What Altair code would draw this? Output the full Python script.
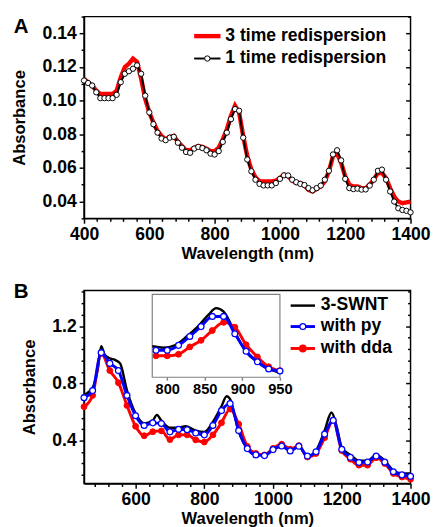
import altair as alt
import pandas as pd

FONT = "Liberation Sans"

# ---------------- Panel A data ----------------
wl_a = [400 + 12.5 * i for i in range(81)]
a_one_time = [0.112, 0.1105, 0.109, 0.105, 0.1015, 0.1015, 0.1015, 0.1015, 0.1035, 0.111,
              0.116, 0.1175, 0.119, 0.121, 0.116, 0.103, 0.093, 0.086, 0.081, 0.0775,
              0.0765, 0.078, 0.0785, 0.075, 0.072, 0.0695, 0.069, 0.0715, 0.0725, 0.0718,
              0.0705, 0.0685, 0.068, 0.070, 0.0755, 0.081, 0.089, 0.095, 0.094, 0.078,
              0.065, 0.058, 0.053, 0.0505, 0.0496, 0.0496, 0.0496, 0.051, 0.0535, 0.0556,
              0.0555, 0.053, 0.0515, 0.0505, 0.0498, 0.048, 0.0467, 0.048, 0.0495, 0.053,
              0.0583, 0.068, 0.0705, 0.0645, 0.0535, 0.048, 0.0474, 0.0477, 0.0471, 0.0472,
              0.0495, 0.053, 0.0583, 0.059, 0.053, 0.046, 0.040, 0.036, 0.035, 0.0345, 0.0336]
a_three_time = [0.113, 0.111, 0.109, 0.106, 0.104, 0.104, 0.104, 0.104, 0.106, 0.114,
                0.120, 0.122, 0.125, 0.123, 0.113, 0.101, 0.093, 0.087, 0.082, 0.079,
                0.077, 0.0785, 0.079, 0.0755, 0.073, 0.0705, 0.0705, 0.072, 0.073, 0.0725,
                0.0715, 0.070, 0.070, 0.072, 0.077, 0.083, 0.091, 0.097, 0.093, 0.079,
                0.067, 0.059, 0.0545, 0.052, 0.052, 0.052, 0.052, 0.0525, 0.054, 0.056,
                0.055, 0.0525, 0.051, 0.051, 0.0495, 0.047, 0.046, 0.0475, 0.049, 0.052,
                0.058, 0.067, 0.0685, 0.063, 0.055, 0.050, 0.049, 0.049, 0.048, 0.048,
                0.050, 0.053, 0.057, 0.057, 0.054, 0.048, 0.043, 0.040, 0.039, 0.0395, 0.040]

# ---------------- Panel B data ----------------
wl_b = list(range(450, 1401, 25))
b_py = [0.70, 0.75, 1.015, 0.94, 0.89, 0.716, 0.574, 0.506, 0.524, 0.52,
        0.461, 0.479, 0.476, 0.453, 0.44, 0.506, 0.61, 0.659, 0.47, 0.344,
        0.30, 0.295, 0.337, 0.362, 0.328, 0.36, 0.292, 0.322, 0.445, 0.542,
        0.339, 0.283, 0.247, 0.25, 0.292, 0.25, 0.182, 0.16, 0.15]
b_dda = [0.637, 0.716, 1.01, 0.89, 0.805, 0.646, 0.50, 0.434, 0.462, 0.468,
         0.407, 0.44, 0.44, 0.405, 0.39, 0.44, 0.525, 0.62, 0.515, 0.36,
         0.31, 0.30, 0.345, 0.375, 0.34, 0.365, 0.285, 0.31, 0.42, 0.54,
         0.33, 0.27, 0.228, 0.228, 0.28, 0.24, 0.17, 0.145, 0.13]
wl_b_swnt = [450, 475, 490, 500, 510, 525, 540, 555, 575, 600, 625, 650, 662, 675, 700,
             725, 745, 775, 800, 825, 850, 865, 875, 890, 905, 925, 950, 975, 1000, 1025,
             1050, 1075, 1100, 1125, 1150, 1170, 1185, 1200, 1225, 1250, 1275, 1300, 1325,
             1350, 1375, 1400]
b_swnt = [0.72, 0.77, 0.90, 1.06, 1.0, 0.975, 0.965, 0.94, 0.75, 0.59, 0.52, 0.54, 0.58,
          0.54, 0.49, 0.49, 0.50, 0.47, 0.46, 0.53, 0.64, 0.71, 0.69, 0.558, 0.432, 0.345,
          0.30, 0.30, 0.34, 0.36, 0.33, 0.36, 0.29, 0.33, 0.47, 0.596, 0.50, 0.35, 0.30,
          0.26, 0.26, 0.30, 0.26, 0.19, 0.17, 0.17]

# inset (zoom of 780-950 nm)
wl_in = [785, 800, 815, 830, 845, 860, 875, 890, 905, 920, 935, 950]
in_py = [0.4425, 0.4425, 0.474, 0.531, 0.594, 0.659, 0.659, 0.548, 0.436, 0.369, 0.323, 0.310]
in_dda = [0.407, 0.407, 0.417, 0.464, 0.506, 0.569, 0.621, 0.590, 0.478, 0.400, 0.337, 0.312]
wl_in_swnt = [780, 795, 810, 825, 840, 855, 865, 875, 890, 905, 920, 935, 950]
in_swnt = [0.468, 0.459, 0.474, 0.527, 0.59, 0.67, 0.712, 0.69, 0.558, 0.432, 0.369, 0.323, 0.30]

# ---------------- helpers ----------------
W = 335
HA = 207
HB = 198
FS = 18
one = pd.DataFrame({"k": [0]})


def axis_layer(df, xs, ys, xaxis, yaxis):
    return alt.Chart(df).mark_point(opacity=0).encode(
        x=alt.X("wl:Q", scale=xs, axis=xaxis),
        y=alt.Y("v:Q", scale=ys, axis=yaxis),
    )


def tick_axis(values, size, orient, offset=0):
    return alt.Axis(values=values, labels=False, tickSize=size, domain=False,
                    title=None, orient=orient, offset=offset, grid=False)


# ---------------- Panel A ----------------
dfa1 = pd.DataFrame({"wl": wl_a, "v": a_one_time})
dfa3 = pd.DataFrame({"wl": wl_a, "v": a_three_time})
xsa = alt.Scale(domain=[400, 1400], nice=False, zero=False)
ysa = alt.Scale(domain=[0.03, 0.15], nice=False, zero=False)
a_major_y = [0.04, 0.06, 0.08, 0.10, 0.12, 0.14]
a_minor_y = [0.03, 0.05, 0.07, 0.09, 0.11, 0.13, 0.15]
a_major_x = [400, 600, 800, 1000, 1200, 1400]
a_minor_x = [440, 480, 520, 560, 640, 680, 720, 760, 840, 880, 920, 960,
             1040, 1080, 1120, 1160, 1240, 1280, 1320, 1360]

a_axes = axis_layer(dfa1, xsa, ysa,
                    alt.Axis(title="Wavelength (nm)", values=a_major_x, format="d", labelFlush=False,
                             tickSize=5, labelPadding=3, titlePadding=2),
                    alt.Axis(title="Absorbance", values=a_major_y, format=".2f",
                             tickSize=5, labelPadding=3, titlePadding=14))
a_minor = axis_layer(dfa1, xsa, ysa, tick_axis(a_minor_x, 3, "bottom"),
                     tick_axis(a_minor_y, 3, "left"))
a_right = axis_layer(dfa1, xsa, ysa, None, tick_axis(a_major_y, 5, "left", -W))
a_right_minor = axis_layer(dfa1, xsa, ysa, None, tick_axis(a_minor_y, 3, "left", -W))

a_red = alt.Chart(dfa3).mark_line(color="#ff0000", strokeWidth=4.5).encode(
    x=alt.X("wl:Q", scale=xsa, axis=None), y=alt.Y("v:Q", scale=ysa, axis=None))
a_black = alt.Chart(dfa1).mark_line(color="black", strokeWidth=2).encode(
    x=alt.X("wl:Q", scale=xsa, axis=None), y=alt.Y("v:Q", scale=ysa, axis=None))
a_pts = alt.Chart(dfa1).mark_point(shape="circle", filled=True, fill="white", stroke="black",
                                   strokeWidth=1, size=30, opacity=1).encode(
    x=alt.X("wl:Q", scale=xsa, axis=None), y=alt.Y("v:Q", scale=ysa, axis=None))

txt = dict(font=FONT, fontSize=FS, fontWeight="bold", align="left", baseline="middle", color="black")
a_leg = [
    alt.Chart(one).mark_rule(color="#ff0000", strokeWidth=4.5).encode(
        x=alt.value(113), x2=alt.value(140), y=alt.value(20)),
    alt.Chart(one).mark_text(**txt).encode(
        x=alt.value(145), y=alt.value(20), text=alt.value("3 time redispersion")),
    alt.Chart(one).mark_rule(color="black", strokeWidth=2).encode(
        x=alt.value(113), x2=alt.value(140), y=alt.value(43)),
    alt.Chart(one).mark_point(shape="circle", filled=True, fill="white", stroke="black",
                              strokeWidth=1, size=30, opacity=1).encode(
        x=alt.value(126.5), y=alt.value(43)),
    alt.Chart(one).mark_text(**txt).encode(
        x=alt.value(145), y=alt.value(43), text=alt.value("1 time redispersion")),
    alt.Chart(one).mark_text(font=FONT, fontSize=21, fontWeight="bold", align="left",
                             baseline="middle", color="black").encode(
        x=alt.value(-72), y=alt.value(11), text=alt.value("A")),
]

panel_a = alt.layer(a_axes, a_minor, a_right, a_right_minor, a_red, a_black, a_pts, *a_leg).resolve_axis(
    x="independent", y="independent").properties(width=W, height=HA)

# ---------------- Panel B ----------------
dfpy = pd.DataFrame({"wl": wl_b, "v": b_py})
dfdda = pd.DataFrame({"wl": wl_b, "v": b_dda})
dfsw = pd.DataFrame({"wl": wl_b_swnt, "v": b_swnt})
xsb = alt.Scale(domain=[450, 1400], nice=False, zero=False)
ysb = alt.Scale(domain=[0.1, 1.45], nice=False, zero=False)
b_major_y = [0.4, 0.8, 1.2]
b_minor_y = [0.16, 0.24, 0.32, 0.48, 0.56, 0.64, 0.72, 0.88, 0.96, 1.04, 1.12, 1.28, 1.36, 1.44]
b_major_x = [600, 800, 1000, 1200, 1400]
b_minor_x = [480, 520, 560, 640, 680, 720, 760, 840, 880, 920, 960,
             1040, 1080, 1120, 1160, 1240, 1280, 1320, 1360]

b_axes = axis_layer(dfpy, xsb, ysb,
                    alt.Axis(title="Wavelength (nm)", values=b_major_x, format="d", labelFlush=False,
                             tickSize=5, labelPadding=3, titlePadding=2),
                    alt.Axis(title="Absorbance", values=b_major_y, format=".1f",
                             tickSize=5, labelPadding=3, titlePadding=14))
b_minor = axis_layer(dfpy, xsb, ysb, tick_axis(b_minor_x, 3, "bottom"),
                     tick_axis(b_minor_y, 3, "left"))
b_right = axis_layer(dfpy, xsb, ysb, None, tick_axis(b_major_y, 5, "left", -W))
b_right_minor = axis_layer(dfpy, xsb, ysb, None, tick_axis(b_minor_y, 3, "left", -W))

BLUE = "#0000ff"
RED = "#ff0000"


def series(df, xs, ys, color, width, pts=None):
    layers = [alt.Chart(df).mark_line(color=color, strokeWidth=width, interpolate="monotone").encode(
        x=alt.X("wl:Q", scale=xs, axis=None), y=alt.Y("v:Q", scale=ys, axis=None))]
    if pts == "open":
        layers.append(alt.Chart(df).mark_point(shape="circle", filled=True, fill="white", stroke=color,
                                               strokeWidth=1.3, size=36, opacity=1).encode(
            x=alt.X("wl:Q", scale=xs, axis=None), y=alt.Y("v:Q", scale=ys, axis=None)))
    elif pts == "filled":
        layers.append(alt.Chart(df).mark_point(shape="circle", filled=True, fill=color, stroke=color,
                                               strokeWidth=1, size=36, opacity=1).encode(
            x=alt.X("wl:Q", scale=xs, axis=None), y=alt.Y("v:Q", scale=ys, axis=None)))
    return layers


b_leg = []
for yy, col, lab, kind in [(15.5, "black", "3-SWNT", None), (37, BLUE, "with py", "open"),
                           (59.5, RED, "with dda", "filled")]:
    b_leg.append(alt.Chart(one).mark_rule(color=col, strokeWidth=2.5 if kind is None else 3).encode(
        x=alt.value(212), x2=alt.value(237), y=alt.value(yy)))
    if kind == "open":
        b_leg.append(alt.Chart(one).mark_point(shape="circle", filled=True, fill="white", stroke=col,
                                               strokeWidth=1.3, size=36, opacity=1).encode(
            x=alt.value(224.5), y=alt.value(yy)))
    elif kind == "filled":
        b_leg.append(alt.Chart(one).mark_point(shape="circle", filled=True, fill=col, stroke=col,
                                               size=36, opacity=1).encode(
            x=alt.value(224.5), y=alt.value(yy)))
    b_leg.append(alt.Chart(one).mark_text(**txt).encode(
        x=alt.value(243), y=alt.value(yy), text=alt.value(lab)))
b_leg.append(alt.Chart(one).mark_text(font=FONT, fontSize=21, fontWeight="bold", align="left",
                                      baseline="middle", color="black").encode(
    x=alt.value(-72), y=alt.value(2), text=alt.value("B")))

inset_box = alt.Chart(one).mark_rect(fill="white", stroke="#808080", strokeWidth=1.2).encode(
    x=alt.value(70), x2=alt.value(201), y=alt.value(4), y2=alt.value(89))

b_main = alt.layer(b_axes, b_minor, b_right, b_right_minor,
                   *series(dfsw, xsb, ysb, "black", 2.5),
                   *series(dfdda, xsb, ysb, RED, 3, "filled"),
                   *series(dfpy, xsb, ysb, BLUE, 3, "open"),
                   *b_leg, inset_box).resolve_axis(x="independent", y="independent")

# inset
dfi_py = pd.DataFrame({"wl": wl_in, "v": in_py})
dfi_dda = pd.DataFrame({"wl": wl_in, "v": in_dda})
dfi_sw = pd.DataFrame({"wl": wl_in_swnt, "v": in_swnt})
xsi = alt.Scale(domain=[780, 950], range=[70, 201], nice=False, zero=False)
ysi = alt.Scale(domain=[0.27, 0.80], range=[89, 4], nice=False, zero=False)

i_axes = alt.Chart(dfi_sw).mark_point(opacity=0).encode(
    x=alt.X("wl:Q", scale=xsi,
            axis=alt.Axis(values=[800, 850, 900, 950], format="d", orient="bottom", offset=-(HB - 89),
                          tickSize=3, labelFontSize=15, labelPadding=2, domain=False, title=None,
                          labelFlush=False, tickColor="#808080", zindex=1)),
    y=alt.Y("v:Q", scale=ysi, axis=None))

b_inset = alt.layer(i_axes,
                    *series(dfi_sw, xsi, ysi, "black", 2.5),
                    *series(dfi_dda, xsi, ysi, RED, 3, "filled"),
                    *series(dfi_py, xsi, ysi, BLUE, 3, "open")).resolve_axis(x="independent", y="independent")

panel_b = alt.layer(b_main, b_inset).resolve_scale(x="independent", y="independent").resolve_axis(
    x="independent", y="independent").properties(width=W, height=HB)

chart = alt.vconcat(panel_a, panel_b, spacing=19).properties(
    padding={"left": 2, "top": 0, "right": 0, "bottom": 0}
).configure_view(stroke="black", strokeWidth=1.5).configure_axis(
    grid=False, labelFont=FONT, titleFont=FONT, labelFontSize=FS, titleFontSize=17,
    labelFontWeight="bold", titleFontWeight="bold", labelColor="black", titleColor="black",
    domainColor="black", tickColor="black", domainWidth=1.5, tickWidth=1.5,
)

chart.save("out.html", embed_options={"renderer": "svg", "actions": False})
